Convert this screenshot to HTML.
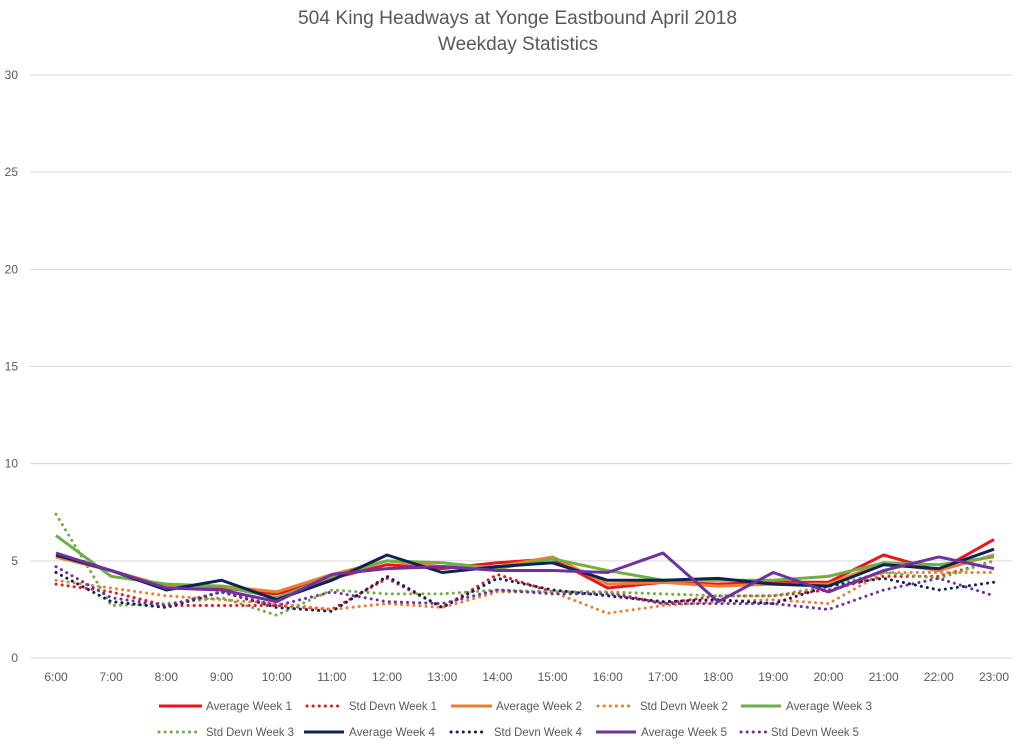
<!DOCTYPE html>
<html><head><meta charset="utf-8"><style>
body{margin:0;background:#fff;font-family:"Liberation Sans",sans-serif}
</style></head><body>
<svg id="chart" width="1024" height="746" xmlns="http://www.w3.org/2000/svg" font-family="Liberation Sans, sans-serif">
<text x="298" y="24" font-size="19" fill="#595959" textLength="439" lengthAdjust="spacingAndGlyphs">504 King Headways at Yonge Eastbound April 2018</text>
<text x="438" y="50" font-size="19" fill="#595959" textLength="160" lengthAdjust="spacingAndGlyphs">Weekday Statistics</text>
<g id="grid"></g><g id="series"></g><g id="legend"></g>
</svg>
<script>
const categories=["6:00","7:00","8:00","9:00","10:00","11:00","12:00","13:00","14:00","15:00","16:00","17:00","18:00","19:00","20:00","21:00","22:00","23:00"];
const yTicks=[0,5,10,15,20,25,30];
const avgW1=[5.2,4.5,3.6,3.6,3.3,4.1,4.8,4.6,4.9,5.1,3.6,3.9,3.8,3.9,3.9,5.3,4.5,6.1];
const sdW1=[3.8,3.4,2.7,2.7,2.7,2.5,4.1,2.6,4.3,3.4,3.4,2.8,3.2,3.2,3.5,4.2,4.2,5.0];
const avgW2=[5.2,4.5,3.7,3.7,3.4,4.3,5.0,4.7,4.7,5.2,3.8,3.9,3.7,3.8,3.8,4.9,4.5,5.3];
const sdW2=[4.0,3.6,3.2,3.0,2.8,2.5,2.8,2.6,3.4,3.4,2.3,2.7,2.9,3.0,2.8,4.4,4.4,4.4];
const avgW3=[6.3,4.2,3.8,3.7,3.1,4.2,5.0,4.9,4.6,5.1,4.5,4.0,4.0,4.0,4.2,4.9,4.8,5.2];
const sdW3=[7.4,2.7,2.8,3.1,2.2,3.5,3.3,3.3,3.5,3.4,3.4,3.3,3.2,3.2,3.7,4.4,4.1,5.0];
const avgW4=[5.3,4.5,3.5,4.0,3.0,4.0,5.3,4.4,4.7,4.9,4.0,4.0,4.1,3.8,3.7,4.8,4.6,5.6];
const sdW4=[4.4,2.9,2.6,3.4,2.6,2.4,4.2,2.6,4.1,3.5,3.2,2.9,3.0,2.8,3.7,4.1,3.5,3.9];
const avgW5=[5.4,4.5,3.6,3.5,2.9,4.3,4.6,4.7,4.5,4.5,4.4,5.4,2.9,4.4,3.4,4.5,5.2,4.6];
const sdW5=[4.7,3.1,2.7,3.4,2.7,3.4,2.9,2.8,3.5,3.3,3.3,2.8,2.8,2.8,2.5,3.5,4.1,3.2];
const NS="http://www.w3.org/2000/svg";
const x0=56,x1=994,yb=658,yt=75,ymax=30;
const xS=i=>x0+i*(x1-x0)/(categories.length-1);
const yS=v=>yb-v*(yb-yt)/ymax;
const grid=document.getElementById('grid');
yTicks.forEach(t=>{
 const l=document.createElementNS(NS,'line');
 
 
 l.setAttribute('x1',30);l.setAttribute('x2',1012);l.setAttribute('y1',yS(t));l.setAttribute('y2',yS(t));
 l.setAttribute('stroke','#d9d9d9');l.setAttribute('stroke-width','1');grid.appendChild(l);
 const tx=document.createElementNS(NS,'text');
 
 
 tx.setAttribute('x',18);tx.setAttribute('y',yS(t)+4);tx.setAttribute('text-anchor','end');
 tx.setAttribute('font-size','12');tx.setAttribute('fill','#595959');tx.textContent=t;grid.appendChild(tx);
});
categories.forEach((c,i)=>{
 const tx=document.createElementNS(NS,'text');
 
 
 tx.setAttribute('x',xS(i));tx.setAttribute('y',681);tx.setAttribute('text-anchor','middle');
 tx.setAttribute('font-size','12');tx.setAttribute('fill','#595959');tx.textContent=c;grid.appendChild(tx);
});
const series=[
 {n:"Average Week 1",d:avgW1,c:"#e8151b",dot:false,lx:159,lw:43,tx:206,ly:706},
 {n:"Std Devn Week 1",d:sdW1,c:"#e8151b",dot:true,lx:307,lw:35,tx:349,ly:706},
 {n:"Average Week 2",d:avgW2,c:"#ed7d31",dot:false,lx:451,lw:41,tx:496,ly:706},
 {n:"Std Devn Week 2",d:sdW2,c:"#ed7d31",dot:true,lx:598,lw:33,tx:640,ly:706},
 {n:"Average Week 3",d:avgW3,c:"#70ad47",dot:false,lx:741,lw:40,tx:786,ly:706},
 {n:"Std Devn Week 3",d:sdW3,c:"#70ad47",dot:true,lx:159,lw:38,tx:206,ly:732},
 {n:"Average Week 4",d:avgW4,c:"#0d2356",dot:false,lx:304,lw:40,tx:349,ly:732},
 {n:"Std Devn Week 4",d:sdW4,c:"#0d2356",dot:true,lx:451,lw:36,tx:494,ly:732},
 {n:"Average Week 5",d:avgW5,c:"#7030a0",dot:false,lx:596,lw:40,tx:641,ly:732},
 {n:"Std Devn Week 5",d:sdW5,c:"#7030a0",dot:true,lx:741,lw:28,tx:771,ly:732}
];
const sg=document.getElementById('series'),lg=document.getElementById('legend');
[...series.filter(s=>s.dot),...series.filter(s=>!s.dot)].forEach(s=>{
 const p=document.createElementNS(NS,'polyline');
 
 
 p.setAttribute('points',s.d.map((v,i)=>xS(i)+','+yS(v)).join(' '));
 p.setAttribute('fill','none');p.setAttribute('stroke',s.c);
 p.setAttribute('stroke-width',3);p.setAttribute('stroke-linejoin','round');
 if(s.dot){p.setAttribute('stroke-dasharray','0.1 6');p.setAttribute('stroke-linecap','round');}
 sg.appendChild(p);
});
series.forEach(s=>{
 const g=document.createElementNS(NS,'g');
 
 
 const l=document.createElementNS(NS,'line');
 l.setAttribute('x1',s.lx);l.setAttribute('x2',s.lx+s.lw);l.setAttribute('y1',s.ly);l.setAttribute('y2',s.ly);
 l.setAttribute('stroke',s.c);l.setAttribute('stroke-width',3);
 if(s.dot){l.setAttribute('stroke-dasharray','0.1 6');l.setAttribute('stroke-linecap','round');}
 g.appendChild(l);
 const t=document.createElementNS(NS,'text');
 t.setAttribute('x',s.tx);t.setAttribute('y',s.ly+4);t.setAttribute('font-size','12');t.setAttribute('fill','#595959');
 t.setAttribute('textLength',s.n.startsWith('Std')?88:86);t.setAttribute('lengthAdjust','spacingAndGlyphs');
 t.textContent=s.n;g.appendChild(t);lg.appendChild(g);
});
</script>
</body></html>
